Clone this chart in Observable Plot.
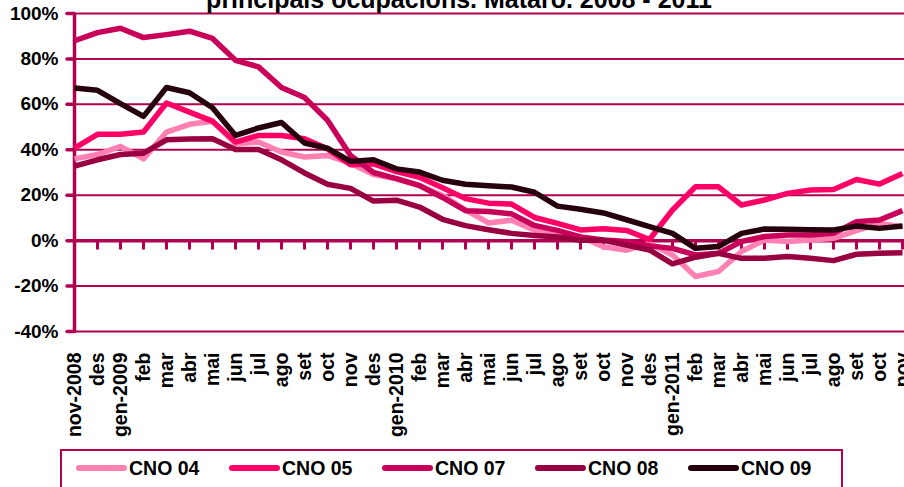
<!DOCTYPE html>
<html>
<head>
<meta charset="utf-8">
<script src="https://cdn.jsdelivr.net/npm/d3@7"></script>
<script src="https://cdn.jsdelivr.net/npm/@observablehq/plot@0.6"></script>
<style>
  html, body { margin: 0; padding: 0; background: #fff; overflow: hidden; }
  #wrap { position: relative; width: 904px; height: 487px; overflow: hidden; font-family: "Liberation Sans", Arial, sans-serif; }
  #title { position: absolute; top: -15px; left: 0; width: 904px; padding-left: 14px; box-sizing: border-box; text-align: center; font-weight: bold; font-size: 25px; white-space: nowrap; color: #000; }
  #legend { position: absolute; left: 60px; top: 449px; width: 783px; height: 60px; border: 2px solid #B0004F; box-sizing: border-box; display: flex; padding-left: 14px; padding-top: 6px; }
  .item { width: 156px; display: flex; align-items: center; height: 22px; }
  .sw { width: 51px; height: 6px; border-radius: 3px; margin-right: 2px; }
  .lab { font-weight: bold; font-size: 19.5px; color: #000; }
  #chart { position: absolute; left: 0; top: 0; }
</style>
</head>
<body>
<div id="wrap">
  <div id="chart"></div>
  <div id="title">principals ocupacions. Mataró. 2008 - 2011</div>
  <div id="legend"></div>
</div>
<script>
const months = ["nov-2008","des","gen-2009","feb","mar","abr","mai","jun","jul","ago","set","oct","nov","des","gen-2010","feb","mar","abr","mai","jun","jul","ago","set","oct","nov","des","gen-2011","feb","mar","abr","mai","jun","jul","ago","set","oct","nov"];

const seriesNames = ["CNO 04", "CNO 05", "CNO 07", "CNO 08", "CNO 09"];
const seriesColors = ["#FF80B3", "#FF0066", "#C8005A", "#990042", "#26000D"];

const cno04 = [36,37.9,41.5,36,47.8,51.2,52.6,42.6,43.4,39,36.8,37.5,34.1,29.1,27.2,24.3,19.9,13.6,7.8,9,4.6,3,1.7,-2.7,-4.2,-1.2,-6.3,-15.8,-13.6,-4.8,0.3,-0.4,0.3,1,4.4,7.6,6.1];
const cno05 = [40.7,46.8,46.8,47.8,60.6,56.6,52.6,43.4,46.3,46.3,44.9,40.4,33.4,33.8,30.4,27.9,23.3,18.5,16.5,16.1,10.2,7.6,4.7,5.2,4.5,0.5,13.5,23.7,23.7,15.7,17.9,20.8,22.3,22.5,26.9,24.9,29.6];
const cno07 = [88,91.6,93.5,89.4,90.7,92.2,89,79.4,76.5,67.4,63,53,37.5,30,27.3,24.2,19,13.2,12.8,11.8,6.7,4.5,1.6,0.3,-0.4,-2.3,-3.4,-6.3,-5.6,-0.4,1.8,2.5,2.5,3.2,8.3,9.1,13.2];
const cno08 = [32.8,35.6,37.9,38.5,44.4,44.7,44.9,40.1,40.1,35.6,29.8,24.8,23,17.4,17.8,14.8,9.4,6.6,4.8,3.2,2.3,1.6,0.2,0.2,-2,-4.1,-10.2,-7.3,-5.6,-7.8,-7.8,-7,-7.8,-8.8,-6,-5.6,-5.3];
const cno09 = [67.2,66.2,60.3,54.7,67.4,65.1,58.5,46.3,49.6,52,43,40.7,34.9,35.6,31.6,30.2,26.6,24.8,24.2,23.6,21.3,15.2,13.8,12.2,9.2,6.2,3.2,-3.4,-2.6,3.2,5.1,5,4.8,4.7,6.4,5.4,6.4];

const yTicks = [-40, -20, 0, 20, 40, 60, 80, 100];

const AX = "#B0004F";
const allSeries = [cno04, cno05, cno07, cno08, cno09];
const rows = [];
allSeries.forEach((vals, s) => vals.forEach((v, i) => rows.push({series: seriesNames[s], i, v})));
const idx = months.map((_, i) => i);

const chart = Plot.plot({
  width: 904,
  height: 487,
  marginTop: 13,
  marginBottom: 156,
  marginLeft: 74,
  marginRight: 2,
  style: {fontFamily: "'Liberation Sans', Arial, sans-serif", background: "transparent"},
  x: {type: "linear", domain: [0, months.length - 1], axis: null},
  y: {domain: [-40, 100], axis: null},
  color: {domain: seriesNames, range: seriesColors},
  marks: [
    Plot.ruleY(yTicks.filter(d => d !== 0), {stroke: AX, strokeWidth: 2, insetRight: -2}),
    Plot.ruleY([0], {stroke: AX, strokeWidth: 3.5, insetRight: -2}),
    Plot.ruleX(idx.slice(1), {x: d => d, y1: 0, y2: 0, insetBottom: -8, stroke: AX, strokeWidth: 3, strokeLinecap: "round"}),
    Plot.ruleX([0], {stroke: AX, strokeWidth: 3.5, insetBottom: -2}),
    Plot.axisY({ticks: yTicks, tickFormat: d => d + "%", label: null, tickSize: 7, tickPadding: 9, stroke: AX, strokeWidth: 3.5, strokeLinecap: "round", fill: "#000", fontSize: 19, fontWeight: "bold"}),
    Plot.axisX({ticks: idx, tickFormat: i => months[i], label: null, tickRotate: -90, tickSize: 0, tickPadding: 21, fill: "#000", fontSize: 19.5, fontWeight: "bold"}),
    Plot.line(rows, {x: "i", y: "v", z: "series", stroke: "series", strokeWidth: 5.5, strokeLinejoin: "round", strokeLinecap: "butt"})
  ]
});
document.getElementById("chart").appendChild(chart);

const legend = document.getElementById("legend");
seriesNames.forEach((n, k) => {
  const it = document.createElement("div");
  it.className = "item";
  const sw = document.createElement("div");
  sw.className = "sw";
  sw.style.background = seriesColors[k];
  const lab = document.createElement("span");
  lab.className = "lab";
  lab.textContent = n;
  it.appendChild(sw); it.appendChild(lab);
  legend.appendChild(it);
});
</script>
</body>
</html>
